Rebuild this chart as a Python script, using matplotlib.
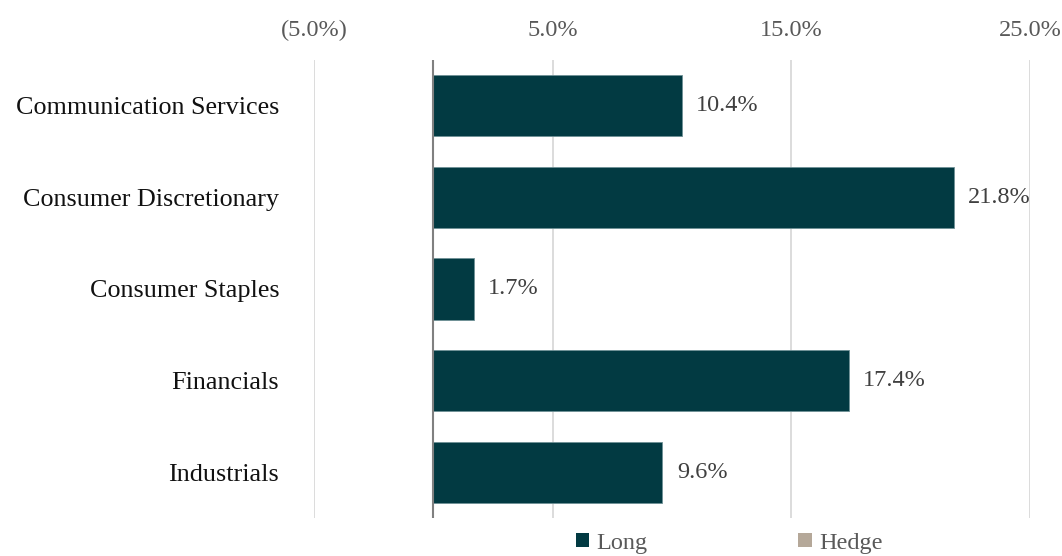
import matplotlib
matplotlib.use("Agg")
import matplotlib.pyplot as plt
from matplotlib.patches import Patch

plt.rcParams['font.family'] = ['Liberation Serif', 'DejaVu Serif']

# data
sectors = ["Communication Services", "Consumer Discretionary", "Consumer Staples",
           "Financials", "Industrials"]
long_pct = [10.4, 21.8, 1.7, 17.4, 9.6]
hedge_pct = [0, 0, 0, 0, 0]
xticks = [-5, 5, 15, 25]
xtick_labels = ["(5.0%)", "5.0%", "15.0%", "25.0%"]

LONG_C = "#023a42"
HEDGE_C = "#b5a899"
FS = 17.5

fig = plt.figure(figsize=(10.62, 5.56), dpi=100)
ax = fig.add_axes([314 / 1062, 38 / 556, 716 / 1062, 458 / 556])

y = list(range(len(sectors)))
ax.barh(y, long_pct, height=0.67, color=LONG_C, edgecolor="#6f9196", linewidth=0.6, zorder=3)
for yi, v in zip(y, long_pct):
    ax.text(v + 0.6, yi, f"{v:.1f}%", va="center", ha="left", fontsize=FS, color="#404040")

ax.set_xlim(-5, 25)
ax.set_ylim(len(sectors) - 0.5, -0.5)
ax.set_xticks(xticks)
ax.set_xticklabels(xtick_labels, fontsize=FS, color="#595959")
ax.xaxis.tick_top()
ax.tick_params(axis="x", length=0, pad=14)
ax.set_yticks(y)
ax.set_yticklabels(sectors, fontsize=18.8, color="#111111")
ax.tick_params(axis="y", length=0, pad=25)

ax.grid(axis="x", color="#d9d9d9", linewidth=1.3, zorder=0)
ax.axvline(0, color="#808080", linewidth=1.5, zorder=4)
for s in ax.spines.values():
    s.set_visible(False)

handles = [Patch(facecolor=LONG_C, label="Long"), Patch(facecolor=HEDGE_C, label="Hedge")]
leg = fig.legend(handles=handles, loc="center", bbox_to_anchor=(729 / 1062, 1 - 543 / 556),
                 ncol=2, frameon=False, fontsize=FS, handlelength=0.55, handleheight=0.55,
                 handletextpad=0.3, columnspacing=6.2, borderpad=0)
for t in leg.get_texts():
    t.set_color("#595959")

fig.savefig("out.png", dpi=100)
